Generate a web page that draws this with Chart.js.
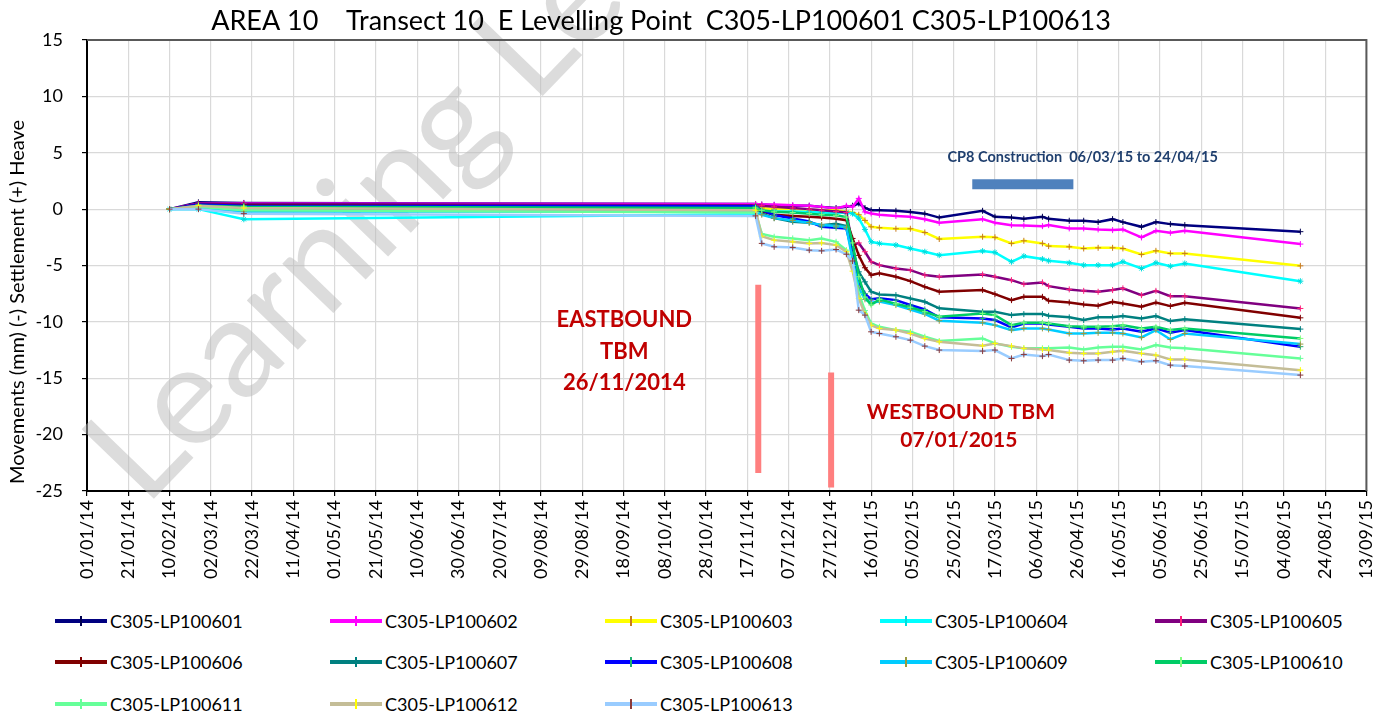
<!DOCTYPE html>
<html>
<head>
<meta charset="utf-8">
<title>AREA 10 Transect 10 E Levelling Point</title>
<script src="https://cdn.jsdelivr.net/npm/chart.js@4.4.1/dist/chart.umd.min.js"></script>
<style>
  body { margin: 0; background: #fff; font-family: Lato, "Open Sans", sans-serif; }
  #wrap { position: relative; width: 1392px; height: 717px; }
  #c { display: block; }
  .lg-item { position: absolute; height: 24px; display: flex; align-items: center; font-size: 18px; color: #000; white-space: nowrap; }
  .lg-line { position: relative; width: 52px; height: 4px; margin-right: 3px; }
  .lg-mark { position: absolute; left: 25px; top: -3px; width: 2px; height: 10px; }
</style>
</head>
<body>
<div id="wrap">
  <canvas id="c" width="1392" height="600"></canvas>
  <div id="legend"></div>
</div>
<script>
// x values are days since 01/01/14
const DAYS = [40, 54, 76, 324, 327, 333, 342, 350, 356, 363, 368, 371, 374, 377, 380, 384, 392, 399,
  406, 413, 434, 440, 448, 454, 463, 466, 476, 483, 490, 497, 502, 511, 518, 525, 532, 588];

const X_TICK_LABELS = ["01/01/14", "21/01/14", "10/02/14", "02/03/14", "22/03/14", "11/04/14", "01/05/14",
  "21/05/14", "10/06/14", "30/06/14", "20/07/14", "09/08/14", "29/08/14", "18/09/14", "08/10/14", "28/10/14",
  "17/11/14", "07/12/14", "27/12/14", "16/01/15", "05/02/15", "25/02/15", "17/03/15", "06/04/15", "26/04/15",
  "16/05/15", "05/06/15", "25/06/15", "15/07/15", "04/08/15", "24/08/15", "13/09/15"];

const NAMES = ["C305-LP100601", "C305-LP100602", "C305-LP100603", "C305-LP100604", "C305-LP100605",
  "C305-LP100606", "C305-LP100607", "C305-LP100608", "C305-LP100609", "C305-LP100610",
  "C305-LP100611", "C305-LP100612", "C305-LP100613"];

const LP601 = [0, 0.6, 0.55, 0.45, 0.4, 0.35, 0.3, 0.3, 0.2, 0.1, 0.2, 0.3, 0.5, 0.1, -0.1, -0.1, -0.15, -0.25,
  -0.4, -0.75, -0.15, -0.68, -0.74, -0.86, -0.68, -0.86, -1.03, -1.03, -1.15, -0.89, -1.15, -1.57, -1.15, -1.33, -1.42, -2.0];
const LP602 = [0, 0.5, 0.5, 0.45, 0.4, 0.4, 0.35, 0.3, 0.2, 0.05, 0.3, 0.2, 0.95, -0.25, -0.38, -0.5, -0.6, -0.68,
  -0.9, -1.21, -0.89, -1.2, -1.42, -1.45, -1.51, -1.42, -1.71, -1.71, -1.8, -1.86, -1.8, -2.51, -1.92, -2.1, -1.92, -3.1];
const LP603 = [0, 0.4, 0.3, 0.2, 0.1, 0, 0, -0.05, -0.1, -0.1, -0.2, -0.3, -0.5, -1.0, -1.57, -1.65, -1.74, -1.74,
  -2.07, -2.65, -2.45, -2.5, -3.04, -2.81, -3.04, -3.28, -3.34, -3.49, -3.43, -3.43, -3.49, -4.02, -3.7, -3.93, -3.93, -5.03];
const LP604 = [0, 0, -0.9, -0.45, -0.3, -0.2, -0.2, -0.25, -0.3, -0.35, -0.3, -0.4, -0.8, -1.8, -2.9, -3.04, -3.19, -3.49,
  -3.78, -4.08, -3.72, -3.84, -4.67, -4.17, -4.43, -4.58, -4.76, -4.97, -4.97, -4.97, -4.67, -5.26, -4.76, -5.06, -4.82, -6.39];
const LP605 = [0, 0.5, 0.45, 0.35, 0.3, 0.2, 0.1, 0, -0.1, -0.2, -0.3, -3.2, -3.0, -3.78, -4.67, -4.97, -5.26, -5.41,
  -5.85, -6.0, -5.8, -6.0, -6.3, -6.65, -6.5, -6.83, -7.12, -7.25, -7.33, -7.18, -7.03, -7.63, -7.25, -7.72, -7.72, -8.81];
const LP606 = [0, 0.4, 0.35, 0.2, -0.2, -0.5, -0.6, -0.68, -0.75, -0.85, -0.98, -2.6, -4.1, -5.2, -5.85, -5.7, -6.0, -6.39,
  -6.89, -7.33, -7.18, -7.54, -8.07, -7.78, -7.78, -8.13, -8.28, -8.45, -8.57, -8.22, -8.37, -8.66, -8.28, -8.6, -8.31, -9.64];
const LP607 = [0, 0.3, 0.1, -0.1, -0.4, -0.8, -1.12, -1.2, -1.42, -1.3, -1.5, -3.5, -5.56, -6.45, -7.33, -7.57, -7.63, -7.92,
  -8.22, -8.8, -9.1, -9.1, -9.4, -9.31, -9.31, -9.46, -9.6, -9.84, -9.6, -9.6, -9.49, -9.7, -9.49, -9.93, -9.76, -10.64];
const LP608 = [0, 0.4, 0.3, 0.25, -0.1, -0.53, -0.83, -1.1, -1.57, -1.65, -1.72, -4.0, -6.5, -7.5, -8.0, -7.9, -8.07, -8.5,
  -8.9, -9.6, -9.7, -9.84, -10.49, -10.14, -10.14, -10.23, -10.44, -10.58, -10.58, -10.67, -10.58, -10.88, -10.58, -10.97, -10.73, -12.2];
const LP609 = [0, 0.1, -0.2, -0.2, -0.5, -0.8, -1.0, -1.2, -1.4, -1.5, -1.6, -4.5, -7.0, -8.0, -8.3, -8.2, -8.51, -8.9,
  -9.3, -9.9, -10.08, -10.29, -10.73, -10.58, -10.58, -10.67, -11.03, -11.03, -10.97, -10.97, -11.03, -11.38, -10.73, -11.56, -11.03, -11.97];
const LP610 = [0, 0.3, 0.2, 0.1, -0.1, -0.24, -0.3, -0.4, -0.5, -0.55, -0.7, -3.0, -6.0, -7.8, -8.5, -8.0, -8.4, -8.7,
  -9.1, -9.55, -9.25, -9.4, -10.29, -10.08, -10.08, -10.14, -10.38, -10.44, -10.44, -10.38, -10.29, -10.58, -10.44, -10.73, -10.58, -11.47];
const LP611 = [0, 0.2, -0.1, -0.3, -2.2, -2.45, -2.6, -2.75, -2.6, -2.9, -3.64, -5.0, -7.48, -9.0, -10.14, -10.44, -10.73, -10.88,
  -11.32, -11.7, -11.47, -11.91, -12.2, -12.35, -12.35, -12.35, -12.27, -12.44, -12.27, -12.2, -12.2, -12.44, -12.06, -12.27, -12.35, -13.24];
const LP612 = [0, 0.3, 0.1, -0.1, -2.4, -2.75, -2.9, -3.04, -3.0, -3.19, -3.78, -5.5, -7.92, -9.3, -10.3, -10.58, -10.73, -11.03,
  -11.47, -11.77, -12.12, -11.91, -12.15, -12.35, -12.44, -12.5, -12.74, -12.8, -12.8, -12.65, -12.56, -12.8, -12.95, -13.33, -13.33, -14.28];
const LP613 = [0, 0, -0.4, -0.6, -3.04, -3.34, -3.4, -3.64, -3.7, -3.58, -4.0, -4.6, -8.96, -9.4, -10.88, -11.03, -11.32, -11.62,
  -12.15, -12.5, -12.59, -12.5, -13.24, -12.89, -13.04, -12.89, -13.39, -13.45, -13.39, -13.39, -13.24, -13.54, -13.45, -13.84, -13.92, -14.72];

const SERIES = [LP601, LP602, LP603, LP604, LP605, LP606, LP607, LP608, LP609, LP610, LP611, LP612, LP613];
const LINE_COLORS = ["#000080", "#ff00ff", "#ffff00", "#00ffff", "#800080", "#800000", "#008080",
  "#0000ff", "#00ccff", "#00cc66", "#66ff99", "#c4bd97", "#99ccff"];
const MARK_COLORS = ["#000050", "#ff00ff", "#c87a1e", "#00dddd", "#ff1f7a", "#800000", "#008080",
  "#20b070", "#9a9a40", "#80ff80", "#66ff99", "#ffff00", "#8b3a3a"];

// event markers: [day, top, bottom]
const EASTBOUND_BAR = [325.3, -6.7, -23.4];
const WESTBOUND_BAR = [360.6, -14.5, -24.7];
const CP8_BAR = [429, 478, 2.2];

function $(id) {
  return document.getElementById(id);
}

function pts(values) {
  return values.map((v, i) => ({ x: DAYS[i], y: v }));
}

const datasets = SERIES.map((s, i) => ({
  label: NAMES[i],
  data: pts(s),
  borderColor: LINE_COLORS[i],
  backgroundColor: LINE_COLORS[i],
  borderWidth: 2.5,
  pointStyle: i === 3 ? "star" : "cross",
  pointRadius: 3,
  pointBorderWidth: 1,
  pointBorderColor: MARK_COLORS[i],
  tension: 0,
  order: -i,
}));

datasets.push(
  {
    label: "_eb",
    data: [{ x: EASTBOUND_BAR[0], y: EASTBOUND_BAR[1] }, { x: EASTBOUND_BAR[0], y: EASTBOUND_BAR[2] }],
    borderColor: "#ff7f7f", borderWidth: 6, borderCapStyle: "butt", pointRadius: 0, order: 5,
  },
  {
    label: "_wb",
    data: [{ x: WESTBOUND_BAR[0], y: WESTBOUND_BAR[1] }, { x: WESTBOUND_BAR[0], y: WESTBOUND_BAR[2] }],
    borderColor: "#ff7f7f", borderWidth: 6, borderCapStyle: "butt", pointRadius: 0, order: 5,
  },
  {
    label: "_cp8",
    data: [{ x: CP8_BAR[0], y: CP8_BAR[2] }, { x: CP8_BAR[1], y: CP8_BAR[2] }],
    borderColor: "#4f81bd", borderWidth: 10, borderCapStyle: "butt", pointRadius: 0, order: 5,
  },
);

const FONT = "Lato, 'Open Sans', sans-serif";

const extras = {
  id: "extras",
  beforeDatasetsDraw(chart) {
    const ctx = chart.ctx;
    ctx.save();
    ctx.translate(145, 508);
    ctx.rotate(-46 * Math.PI / 180);
    ctx.font = `140px ${FONT}`;
    ctx.fillStyle = "rgba(185,185,185,0.5)";
    ctx.textBaseline = "alphabetic";
    ctx.fillText("Learning Le", 0, 0);
    ctx.restore();
  },
  afterDatasetsDraw(chart) {
    const ctx = chart.ctx;
    const xs = chart.scales.x;
    const ys = chart.scales.y;
    const a = chart.chartArea;
    ctx.save();
    // top + right frame
    ctx.strokeStyle = "#595959";
    ctx.lineWidth = 2;
    ctx.beginPath();
    ctx.moveTo(a.left, a.top);
    ctx.lineTo(a.right, a.top);
    ctx.lineTo(a.right, a.bottom);
    ctx.stroke();

    ctx.textAlign = "center";
    ctx.textBaseline = "middle";
    ctx.fillStyle = "#c00000";
    ctx.font = `bold 22px ${FONT}`;
    ctx.fillText("EASTBOUND", xs.getPixelForValue(260.4), ys.getPixelForValue(-9.85));
    ctx.fillText("TBM", xs.getPixelForValue(260.4), ys.getPixelForValue(-12.7));
    ctx.fillText("26/11/2014", xs.getPixelForValue(260.4), ys.getPixelForValue(-15.4));
    ctx.font = `bold 21px ${FONT}`;
    ctx.fillText("WESTBOUND TBM", xs.getPixelForValue(423.5), ys.getPixelForValue(-18.0));
    ctx.fillText("07/01/2015", xs.getPixelForValue(422.5), ys.getPixelForValue(-20.5));

    ctx.fillStyle = "#1f3f6e";
    ctx.font = `bold 14.5px ${FONT}`;
    ctx.fillText("CP8 Construction  06/03/15 to 24/04/15", xs.getPixelForValue(482.5), ys.getPixelForValue(4.6));

    ctx.fillStyle = "#000";
    ctx.font = `27px ${FONT}`;
    ctx.fillText("AREA 10    Transect 10  E Levelling Point  C305-LP100601 C305-LP100613", 661, 21);

    // y axis title
    ctx.save();
    ctx.translate(18, 302);
    ctx.rotate(-Math.PI / 2);
    ctx.font = `20px ${FONT}`;
    ctx.fillText("Movements (mm) (-) Settlement (+) Heave", 0, 0);
    ctx.restore();
    ctx.restore();
  },
};

new Chart($("c").getContext("2d"), {
  type: "line",
  data: { datasets },
  options: {
    responsive: false,
    animation: false,
    layout: { padding: { top: 40, right: 24, left: 0, bottom: 0 } },
    plugins: {
      legend: { display: false },
      tooltip: { enabled: false },
      title: { display: false },
    },
    scales: {
      x: {
        type: "linear",
        min: 0,
        max: 620,
        afterFit: (s) => { s.height = 109; },
        afterBuildTicks: (s) => {
          s.ticks = X_TICK_LABELS.map((_, i) => ({ value: i * 20 }));
        },
        ticks: {
          autoSkip: false,
          maxRotation: 90,
          minRotation: 90,
          padding: 4,
          color: "#000",
          font: { family: FONT, size: 18 },
          callback: (v) => X_TICK_LABELS[Math.round(v / 20)],
        },
        grid: { color: "#d9d9d9", lineWidth: 1.2, tickLength: 5, tickColor: "#000" },
        border: { color: "#000", width: 2 },
      },
      y: {
        min: -25,
        max: 15,
        afterFit: (s) => { s.width = 87; },
        ticks: {
          stepSize: 5,
          padding: 19,
          color: "#000",
          font: { family: FONT, size: 18 },
        },
        grid: { color: "#d9d9d9", lineWidth: 1.2, tickLength: 5, tickColor: "#000" },
        border: { color: "#000", width: 2 },
      },
    },
  },
  plugins: [extras],
});

// legend: 5 columns, left aligned rows
const legend = $("legend");
const ROW_Y = [21, 62, 104];
NAMES.forEach((name, i) => {
  const item = document.createElement("div");
  item.className = "lg-item";
  item.style.left = `${55 + (i % 5) * 275}px`;
  item.style.top = `${600 + ROW_Y[Math.floor(i / 5)] - 12}px`;
  item.innerHTML =
    `<span class="lg-line" style="background:${LINE_COLORS[i]}">` +
    `<span class="lg-mark" style="background:${MARK_COLORS[i]}"></span></span>${name}`;
  legend.appendChild(item);
});
</script>
</body>
</html>
